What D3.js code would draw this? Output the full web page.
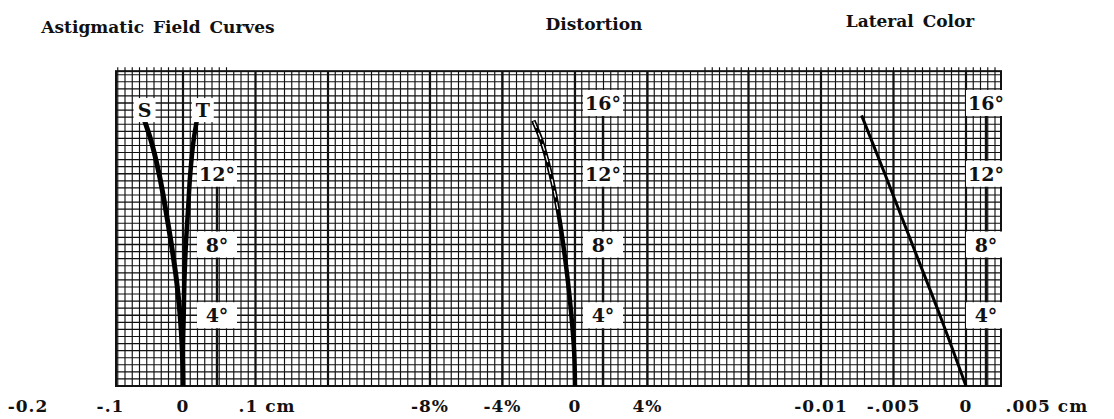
<!DOCTYPE html>
<html>
<head>
<meta charset="utf-8">
<script src="https://cdn.jsdelivr.net/npm/d3@7"></script>
<style>
  html, body { margin: 0; padding: 0; background: #fff; }
  svg { display: block; }
  text { font-family: "DejaVu Serif", "Liberation Serif", serif; font-weight: bold; fill: #111; }
</style>
</head>
<body>
<svg id="chart" width="1114" height="419"></svg>
<script>
// Field angle (degrees) shared by the three aberration plots
const degreeTicks = [4, 8, 12, 16];

// Astigmatic field curves (cm)
const astigAngle = [0, 2, 4, 6, 8, 10, 12, 14, 15];
const sagittal   = [0, -0.001, -0.004, -0.009, -0.016, -0.024, -0.033, -0.045, -0.053];
const tangential = [0, 0.000, 0.001, 0.002, 0.004, 0.007, 0.010, 0.015, 0.019];
const astigTicks = [-0.2, -0.1, 0, 0.1];
const astigTickLabels = ["-0.2", "-.1", "0", ".1 cm"];

// Distortion (%)
const distAngle  = [0, 2, 4, 6, 8, 10, 12, 14, 15];
const distortion = [0, -0.05, -0.2, -0.4, -0.65, -0.95, -1.35, -1.9, -2.3];
const distTicks = [-8, -4, 0, 4];
const distTickLabels = ["-8%", "-4%", "0", "4%"];

// Lateral color (cm)
const latAngle = [0, 4, 8, 12, 15.3];
const lateral  = [0, -0.0018, -0.0037, -0.0056, -0.0072];
const latTicks = [-0.01, -0.005, 0, 0.005];
const latTickLabels = ["-0.01", "-.005", "0", ".005 cm"];

const svg = d3.select("#chart");

// Vertical (field angle) scale, common to all panels
const y = d3.scaleLinear().domain([0, 16]).range([386, 103]);
const gridTop = y(17.8), gridBottom = y(0);
const sheetLeft = 116, sheetRight = 1001;

// Each panel has its own horizontal scale on the shared sheet
const panels = [
  { title: "Astigmatic Field Curves", titleX: 158, titleY: 33, left: sheetLeft, right: 400,
    x: d3.scaleLinear().domain([0, 0.1]).range([183, 255.5]), major: 0.1,
    ticks: astigTicks, tickLabels: astigTickLabels, labelX: 217, labelDegs: [4, 8, 12],
    tickShift: { "-0.2": -10, ".1 cm": -17 } },
  { title: "Distortion", titleX: 594, titleY: 30, left: 400, right: 700,
    x: d3.scaleLinear().domain([0, 4]).range([575, 647.5]), major: 4,
    ticks: distTicks, tickLabels: distTickLabels, labelX: 603, labelDegs: degreeTicks,
    tickShift: {} },
  { title: "Lateral Color", titleX: 910, titleY: 27, left: 700, right: sheetRight,
    x: d3.scaleLinear().domain([0, 0.005]).range([966, 1038.5]), major: 0.005,
    ticks: latTicks, tickLabels: latTickLabels, labelX: 986, labelDegs: degreeTicks,
    tickShift: { ".005 cm": -33 } }
];

const paper = svg.append("g").attr("class", "paper");

// Fine vertical rulings: one-hundredth-centimetre steps of the field-curve scale, across the sheet
const fineX = panels[0].x;
const fStep = 0.01;
const f0 = Math.ceil(fineX.invert(sheetLeft) / fStep - 1e-6);
const f1 = Math.floor(fineX.invert(sheetRight) / fStep + 1e-6);
d3.range(f0, f1 + 1).forEach(i => {
  const px = fineX(i * fStep);
  const stub = px > panels[2].left || px < 230;
  paper.append("line")
    .attr("x1", px).attr("x2", px)
    .attr("y1", stub ? gridTop - 4 : gridTop).attr("y2", gridBottom)
    .attr("stroke", "#111").attr("stroke-width", 1.15);
});

// Heavy rulings at each panel's major divisions
panels.forEach(p => {
  const v0 = p.x.invert(p.left), v1 = p.x.invert(p.right);
  const i0 = Math.ceil(v0 / p.major - 1e-6), i1 = Math.floor(v1 / p.major + 1e-6);
  d3.range(i0, i1 + 1).forEach(i => {
    const px = p.x(i * p.major);
    paper.append("line")
      .attr("x1", px).attr("x2", px)
      .attr("y1", gridTop).attr("y2", gridBottom)
      .attr("stroke", "#111").attr("stroke-width", 2.2);
  });
});

// Horizontal rulings every 0.4 degree across the full sheet
d3.range(0, 45).forEach(k => {
  const deg = k * 0.4;
  paper.append("line")
    .attr("x1", sheetLeft).attr("x2", sheetRight)
    .attr("y1", y(deg)).attr("y2", y(deg))
    .attr("stroke", "#111").attr("stroke-width", k % 10 === 0 ? 1.6 : 1.15);
});

// Sheet border
paper.append("rect")
  .attr("x", sheetLeft).attr("y", gridTop)
  .attr("width", sheetRight - sheetLeft).attr("height", gridBottom - gridTop)
  .attr("fill", "none").attr("stroke", "#111").attr("stroke-width", 2);

// Titles
panels.forEach(p => {
  svg.append("text").attr("x", p.titleX).attr("y", p.titleY)
    .attr("text-anchor", "middle").attr("font-size", 17)
    .attr("word-spacing", 3).text(p.title);
});

// Horizontal tick labels
panels.forEach(p => {
  p.ticks.forEach((t, i) => {
    const lbl = p.tickLabels[i];
    const hasUnit = lbl.endsWith(" cm");
    svg.append("text")
      .attr("x", p.x(t)).attr("y", 412)
      .attr("text-anchor", hasUnit ? "start" : "middle")
      .attr("dx", p.tickShift[lbl] || 0)
      .attr("font-size", 17).attr("letter-spacing", 1)
      .text(lbl);
  });
});

// Column rule carrying the angle labels, then the labels themselves
const boxW = 40, boxH = 26;
panels.forEach(p => {
  const topDeg = d3.max(p.labelDegs);
  svg.append("line")
    .attr("x1", p.labelX).attr("x2", p.labelX)
    .attr("y1", y(topDeg)).attr("y2", gridBottom)
    .attr("stroke", "#111").attr("stroke-width", 2.4);
  p.labelDegs.forEach(d => {
    svg.append("rect")
      .attr("x", p.labelX - boxW / 2).attr("y", y(d) - boxH / 2)
      .attr("width", boxW).attr("height", boxH).attr("fill", "#fff");
    svg.append("text")
      .attr("x", p.labelX).attr("y", y(d) + 7)
      .attr("text-anchor", "middle").attr("font-size", 19)
      .text(d + "°");
  });
});

// Curves
const line = (xs, ys, xScale) => d3.line().curve(d3.curveMonotoneY)
  .x((d, i) => xScale(xs[i])).y((d, i) => y(ys[i]))(ys);

const astX = panels[0].x, distX = panels[1].x, latX = panels[2].x;

svg.append("path").attr("d", line(sagittal, astigAngle, astX))
  .attr("fill", "none").attr("stroke", "#000").attr("stroke-width", 5);
svg.append("path").attr("d", line(tangential, astigAngle, astX))
  .attr("fill", "none").attr("stroke", "#000").attr("stroke-width", 4.5);

// Distortion is traced with a double pen line that opens up toward the edge of the field
const distPath = line(distortion, distAngle, distX);
svg.append("path").attr("d", distPath)
  .attr("fill", "none").attr("stroke", "#000").attr("stroke-width", 4.5);
const upperIdx = distAngle.map((a, i) => i).filter(i => distAngle[i] >= 9);
svg.append("path")
  .attr("d", line(upperIdx.map(i => distortion[i]), upperIdx.map(i => distAngle[i]), distX))
  .attr("fill", "none").attr("stroke", "#fff").attr("stroke-width", 1.2)
  .attr("stroke-dasharray", "7,5");

svg.append("path").attr("d", line(lateral, latAngle, latX))
  .attr("fill", "none").attr("stroke", "#000").attr("stroke-width", 3);

// S and T markers at the top of the field curves
[["S", sagittal], ["T", tangential]].forEach(([name, vals]) => {
  const cx = astX(vals[vals.length - 1]) + (name === "T" ? 6 : 0);
  const cy = y(15.6);
  svg.append("rect").attr("x", cx - 11).attr("y", cy - 12)
    .attr("width", 22).attr("height", 24).attr("fill", "#fff");
  svg.append("text").attr("x", cx).attr("y", cy + 7)
    .attr("text-anchor", "middle").attr("font-size", 19).text(name);
});
</script>
</body>
</html>
